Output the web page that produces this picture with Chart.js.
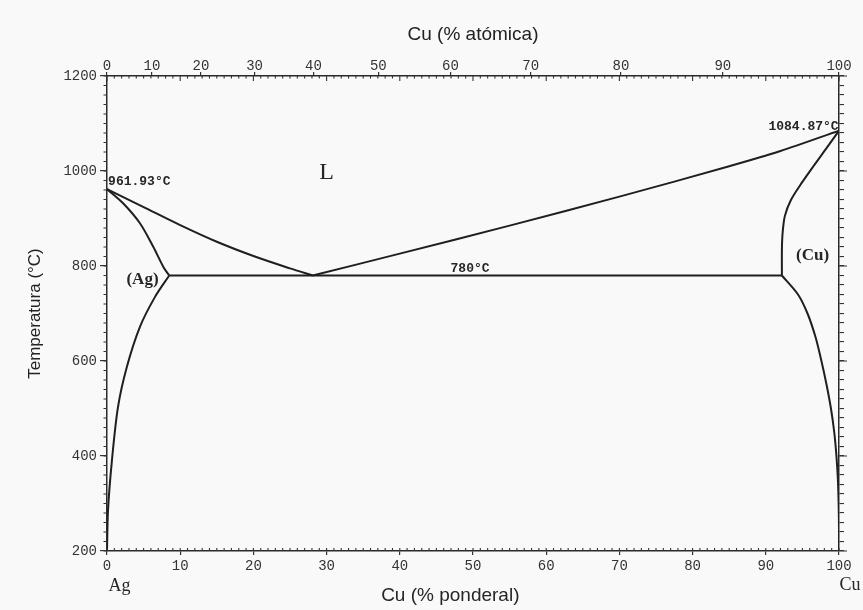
<!DOCTYPE html>
<html lang="es">
<head>
<meta charset="utf-8">
<title>Diagrama de fases Ag–Cu</title>
<script src="https://cdn.jsdelivr.net/npm/chart.js@4/dist/chart.umd.min.js"></script>
<style>
  html, body { margin: 0; padding: 0; background: #f9f9f9; }
  #wrap { width: 863px; height: 610px; }
</style>
</head>
<body>
<div id="wrap"><canvas id="c" width="863" height="610"></canvas></div>
<script>
// Ag–Cu equilibrium diagram. Composition in wt% Cu, temperature in °C.
const liquidusAg = [[0, 961.93], [5, 924], [10, 886], [15, 851], [20, 821], [25, 795], [28.1, 780]];
const liquidusCu = [[28.1, 780], [40, 826], [55, 885], [70, 946], [85, 1010], [92, 1042], [100, 1084.87]];
const solidusAg  = [[0, 961.93], [2.2, 932], [4.5, 890], [6.3, 841], [7.7, 798], [8.5, 780]];
const solidusCu  = [[100, 1084.87], [98.2, 1046], [96.5, 1010], [95.0, 977], [93.4, 938], [92.6, 905], [92.3, 870], [92.2, 835], [92.2, 780]];
const solvusAg   = [[8.5, 780], [6.56, 735], [4.5, 672], [2.7, 587], [1.5, 503], [0.68, 392], [0.14, 286], [0, 200]];
const solvusCu   = [[92.2, 780], [94.4, 740], [95.7, 700], [96.8, 650], [97.6, 600], [98.3, 550], [98.9, 500], [99.35, 450], [99.65, 400], [99.85, 350], [99.95, 300], [100, 250], [100, 200]];
const eutectic   = [[8.5, 780], [92.2, 780]];

// Top axis: atomic percent labels
const atomicTicks = [0, 10, 20, 30, 40, 50, 60, 70, 80, 90, 100];

// Text placed in data space: [text, wt% Cu, °C, kind]
const annotations = [
  ['L', 30, 996, 'phaseBig'],
  ['(Ag)', 4.85, 772, 'phase'],
  ['(Cu)', 96.4, 821, 'phase'],
  ['961.93°C', 0.15, 977, 'tempLeft'],
  ['1084.87°C', 99.95, 1093, 'tempRight'],
  ['780°C', 49.6, 794, 'tempCenter'],
  ['Ag', 1.7, 126, 'element'],
  ['Cu', 101.5, 128, 'element'],
  ['Cu (% ponderal)', 46.9, 105, 'axisTitle']
];

const M_CU = 63.546, M_AG = 107.8682;
const atToWt = a => 100 * a * M_CU / (a * M_CU + (100 - a) * M_AG);
const pts = arr => arr.map(([x, y]) => ({ x, y }));

const INK = '#262626';
const tickFont = { family: 'Liberation Mono', size: 14, lineHeight: 1 };

const textStyles = {
  phaseBig:   { font: '24px "Liberation Serif"', align: 'center' },
  phase:      { font: 'bold 17px "Liberation Serif"', align: 'center' },
  tempLeft:   { font: 'bold 13px "Liberation Mono"', align: 'left' },
  tempRight:  { font: 'bold 13px "Liberation Mono"', align: 'right' },
  tempCenter: { font: 'bold 13px "Liberation Mono"', align: 'center' },
  element:    { font: '18px "Liberation Serif"', align: 'center' },
  axisTitle:  { font: '19px "Liberation Sans"', align: 'center' }
};

// Small tick marks: scale id, frame edge, step, length, direction (+1 outward, -1 inward)
const minorTicks = [
  { id: 'x', edge: 'bottom', step: 1, len: 3, dir: -1 },
  { id: 'x', edge: 'top', step: 1, len: 2.5, dir: -1 },
  { id: 'x', edge: 'top', step: 10, len: 5, dir: -1 },
  { id: 'y', edge: 'left', step: 20, len: 3.5, dir: 1 },
  { id: 'y', edge: 'right', step: 200, len: 8, dir: 1 }
];

const background = {
  id: 'background',
  beforeDraw(chart) {
    const { ctx, width, height } = chart;
    ctx.save();
    ctx.fillStyle = '#f9f9f9';
    ctx.fillRect(0, 0, width, height);
    ctx.restore();
  }
};

const tickMarks = {
  id: 'tickMarks',
  afterDraw(chart) {
    const { ctx, chartArea: a } = chart;
    ctx.save();
    ctx.strokeStyle = '#333';
    ctx.lineWidth = 1.1;
    ctx.beginPath();
    minorTicks.forEach(t => {
      const s = chart.scales[t.id];
      for (let v = s.min; v <= s.max + 1e-9; v += t.step) {
        const p = s.getPixelForValue(v);
        if (t.edge === 'bottom') { ctx.moveTo(p, a.bottom); ctx.lineTo(p, a.bottom + t.dir * t.len); }
        else if (t.edge === 'top') { ctx.moveTo(p, a.top); ctx.lineTo(p, a.top - t.dir * t.len); }
        else if (t.edge === 'left') { ctx.moveTo(a.left, p); ctx.lineTo(a.left - t.dir * t.len, p); }
        else { ctx.moveTo(a.right, p); ctx.lineTo(a.right + t.dir * t.len, p); }
      }
    });
    ctx.stroke();
    ctx.restore();
  }
};

const textLabels = {
  id: 'textLabels',
  afterDraw(chart) {
    const { ctx } = chart;
    const sx = chart.scales.x, sy = chart.scales.y;
    ctx.save();
    ctx.fillStyle = INK;
    ctx.textBaseline = 'middle';
    annotations.forEach(([text, x, y, kind]) => {
      const st = textStyles[kind];
      ctx.font = st.font;
      ctx.textAlign = st.align;
      ctx.fillText(text, sx.getPixelForValue(x), sy.getPixelForValue(y));
    });
    ctx.restore();
  }
};

const curve = (data, tension) => ({
  data: pts(data),
  showLine: true,
  borderColor: '#1f1f1f',
  borderWidth: 2,
  pointRadius: 0,
  tension,
  xAxisID: 'x',
  yAxisID: 'y'
});

const frameBorder = { display: true, color: '#2a2a2a', width: 1.5 };

new Chart(document.getElementById('c'), {
  type: 'scatter',
  data: {
    datasets: [
      curve(liquidusAg, 0.3),
      curve(liquidusCu, 0.3),
      curve(solidusAg, 0.3),
      curve(solidusCu, 0.3),
      curve(solvusAg, 0.3),
      curve(solvusCu, 0.3),
      curve(eutectic, 0)
    ]
  },
  options: {
    responsive: false,
    animation: false,
    events: [],
    layout: { padding: 0 },
    plugins: { legend: { display: false }, tooltip: { enabled: false }, title: { display: false } },
    scales: {
      x: {
        type: 'linear', position: 'bottom', min: 0, max: 100,
        ticks: { stepSize: 10, padding: 4, font: tickFont, color: '#333', maxRotation: 0, autoSkip: false, callback: v => String(v) },
        grid: { drawOnChartArea: false, tickLength: 4, color: '#333', lineWidth: 1.2 },
        border: frameBorder,
        afterFit: s => { s.height = 59; }
      },
      xTop: {
        type: 'linear', position: 'top', axis: 'x', min: 0, max: 100,
        afterBuildTicks: s => { s.ticks = atomicTicks.map(a => ({ value: atToWt(a) })); },
        ticks: {
          padding: -1, font: tickFont, color: '#333', maxRotation: 0, autoSkip: false,
          callback: (v, i) => String(atomicTicks[i])
        },
        grid: { drawOnChartArea: false, tickLength: 4, color: '#333', lineWidth: 1.2 },
        border: frameBorder,
        title: {
          display: true, text: 'Cu (% atómica)', color: '#222',
          font: { family: 'Liberation Sans', size: 19 }, padding: { top: 23, bottom: 0 }
        },
        afterFit: s => { s.height = 76; }
      },
      y: {
        type: 'linear', position: 'left', min: 200, max: 1200,
        ticks: { stepSize: 200, padding: 3, font: tickFont, color: '#333', callback: v => String(v) },
        grid: { drawOnChartArea: false, tickLength: 7, color: '#333', lineWidth: 1.2 },
        border: frameBorder,
        title: {
          display: true, text: 'Temperatura (°C)', color: '#222',
          font: { family: 'Liberation Sans', size: 17 }, padding: { top: 25, bottom: 0 }
        },
        afterFit: s => { s.width = 107; }
      },
      y2: {
        type: 'linear', position: 'right', axis: 'y', min: 200, max: 1200,
        ticks: { stepSize: 20, display: false },
        grid: { drawOnChartArea: false, tickLength: 5, color: '#333', lineWidth: 1.1 },
        border: frameBorder,
        afterFit: s => { s.width = 24; }
      }
    }
  },
  plugins: [background, tickMarks, textLabels]
});
</script>
</body>
</html>
